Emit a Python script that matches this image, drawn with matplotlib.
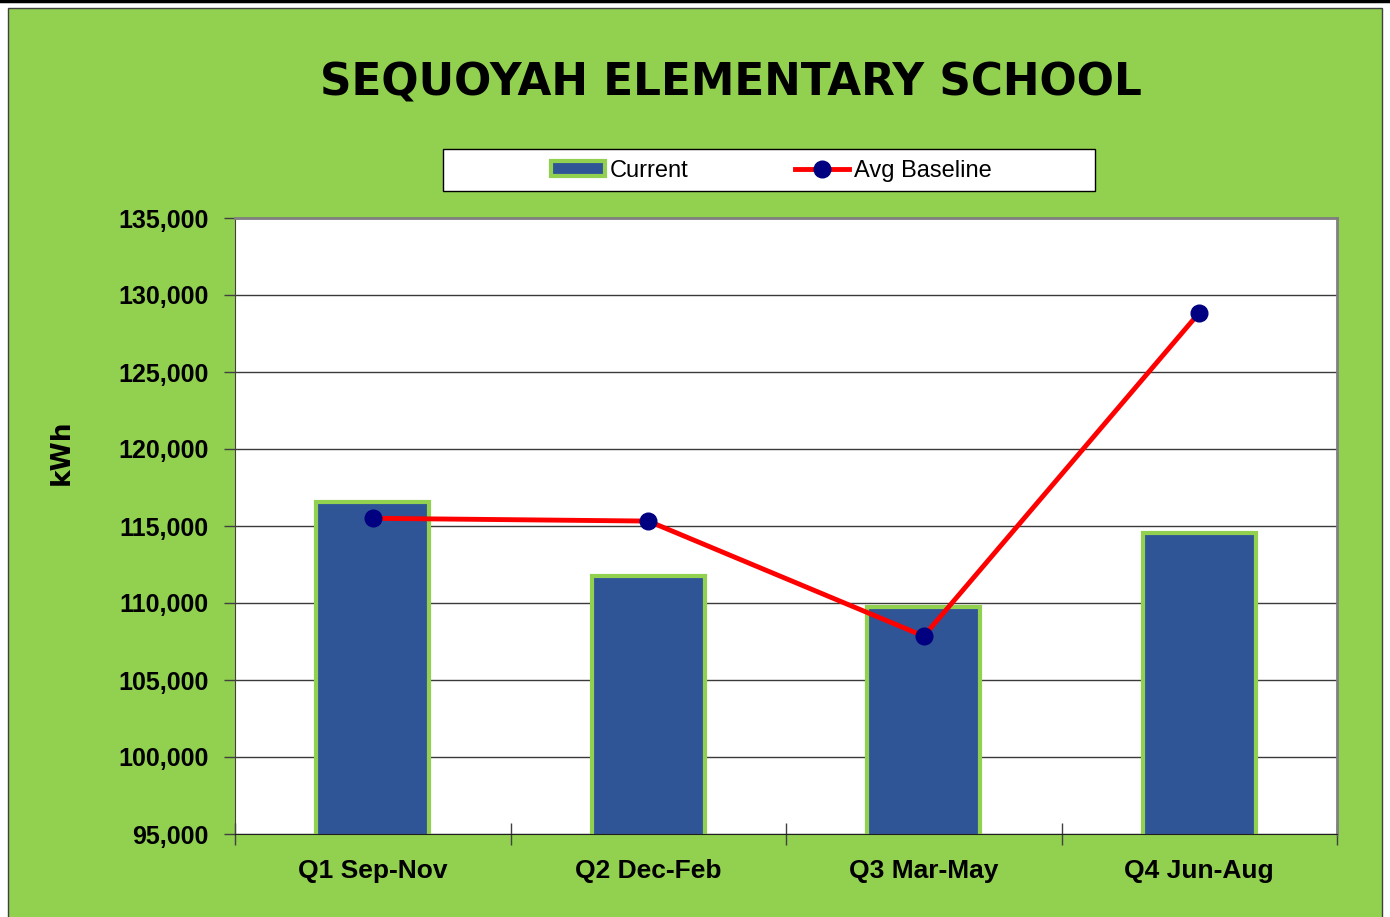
import matplotlib
matplotlib.use("Agg")
import matplotlib.pyplot as plt
import matplotlib.ticker as plt_tick
from matplotlib.patches import Rectangle, Patch
from matplotlib.lines import Line2D
import numpy as np

quarters = ["Q1 Sep-Nov", "Q2 Dec-Feb", "Q3 Mar-May", "Q4 Jun-Aug"]
current_kwh = [116550, 111750, 109750, 114550]
baseline_kwh = [115500, 115320, 107850, 128850]

green = "#92D050"
bar_blue = "#2F5597"
narrow = ["Liberation Sans Narrow", "Liberation Sans", "DejaVu Sans"]

fig = plt.figure(figsize=(13.9, 9.17), dpi=100, facecolor="white")

# green chart area with thin border, black rule on top
fig.patches.append(Rectangle((8 / 1390, -0.01), 1374 / 1390, 1 - 8 / 917 + 0.01,
                             transform=fig.transFigure, facecolor=green,
                             edgecolor="#404040", lw=1, zorder=-10))
fig.add_artist(Line2D([0, 1], [1 - 1 / 917, 1 - 1 / 917], transform=fig.transFigure,
                      color="black", lw=2.5))
# legend box
fig.patches.append(Rectangle((443 / 1390, 1 - 191 / 917), 652 / 1390, 42 / 917,
                             transform=fig.transFigure, facecolor="white",
                             edgecolor="black", lw=1, zorder=-5))

ax = fig.add_axes([235 / 1390, 1 - 834 / 917, 1102 / 1390, 616 / 917])
ax.set_facecolor("white")

x = np.arange(len(quarters))
ax.bar(x, current_kwh, width=0.41, color=bar_blue, edgecolor=green, lw=3, zorder=2)
ax.plot(x, baseline_kwh, color="red", lw=3.5, marker="o", ms=12,
        mfc="#000080", mec="#000080", zorder=3)

ax.set_xlim(-0.5, 3.5)
ax.set_ylim(95000, 135000)
ax.yaxis.set_major_locator(plt_tick.MultipleLocator(5000))
ax.yaxis.set_major_formatter(plt_tick.StrMethodFormatter("{x:,.0f}"))
ax.grid(True, axis="y", color="#3a3a3a", lw=1, zorder=1)
ax.set_axisbelow(True)

ax.set_xticks(np.arange(-0.5, 4, 1))
ax.set_xticklabels([])
ax.set_xticks(x, minor=True)
ax.set_xticklabels(quarters, minor=True, fontsize=19, fontweight="bold", family=narrow)
ax.tick_params(axis="x", which="minor", length=0, pad=18)
ax.tick_params(axis="x", which="major", direction="inout", length=16, width=1, color="#404040")
ax.tick_params(axis="y", direction="out", length=8, width=1, color="#404040", pad=11)
for lab in ax.get_yticklabels():
    lab.set_fontsize(18)
    lab.set_fontweight("bold")
    lab.set_family(narrow)

for side in ["top", "right"]:
    ax.spines[side].set_color("#808080")
    ax.spines[side].set_linewidth(2)
ax.spines["left"].set_color("#404040")
ax.spines["bottom"].set_color("#202020")

ax.set_ylabel("kWh", fontsize=19, fontweight="bold")
ax.yaxis.set_label_coords((75 - 235) / 1102, (834 - 452) / 616)

fig.text(731 / 1390, 1 - 83 / 917, "SEQUOYAH ELEMENTARY SCHOOL", ha="center", va="center",
         fontsize=31.5, fontweight="bold", family=["DejaVu Sans"])

handles = [Patch(facecolor=bar_blue, edgecolor=green, lw=3),
           Line2D([], [], color="red", lw=3.5, marker="o", ms=12, mfc="#000080", mec="#000080")]
leg = fig.legend(handles, ["Current", "Avg Baseline"], loc="center",
                 bbox_to_anchor=(771 / 1390, 1 - 171 / 917),
                 ncol=2, frameon=False, fontsize=17, columnspacing=4.5,
                 handlelength=2.3, handleheight=0.6, handletextpad=0.2)
for t in leg.get_texts():
    t.set_family(["Liberation Sans Narrow", "Liberation Sans"])

fig.savefig("out.png", dpi=100, facecolor="white")
